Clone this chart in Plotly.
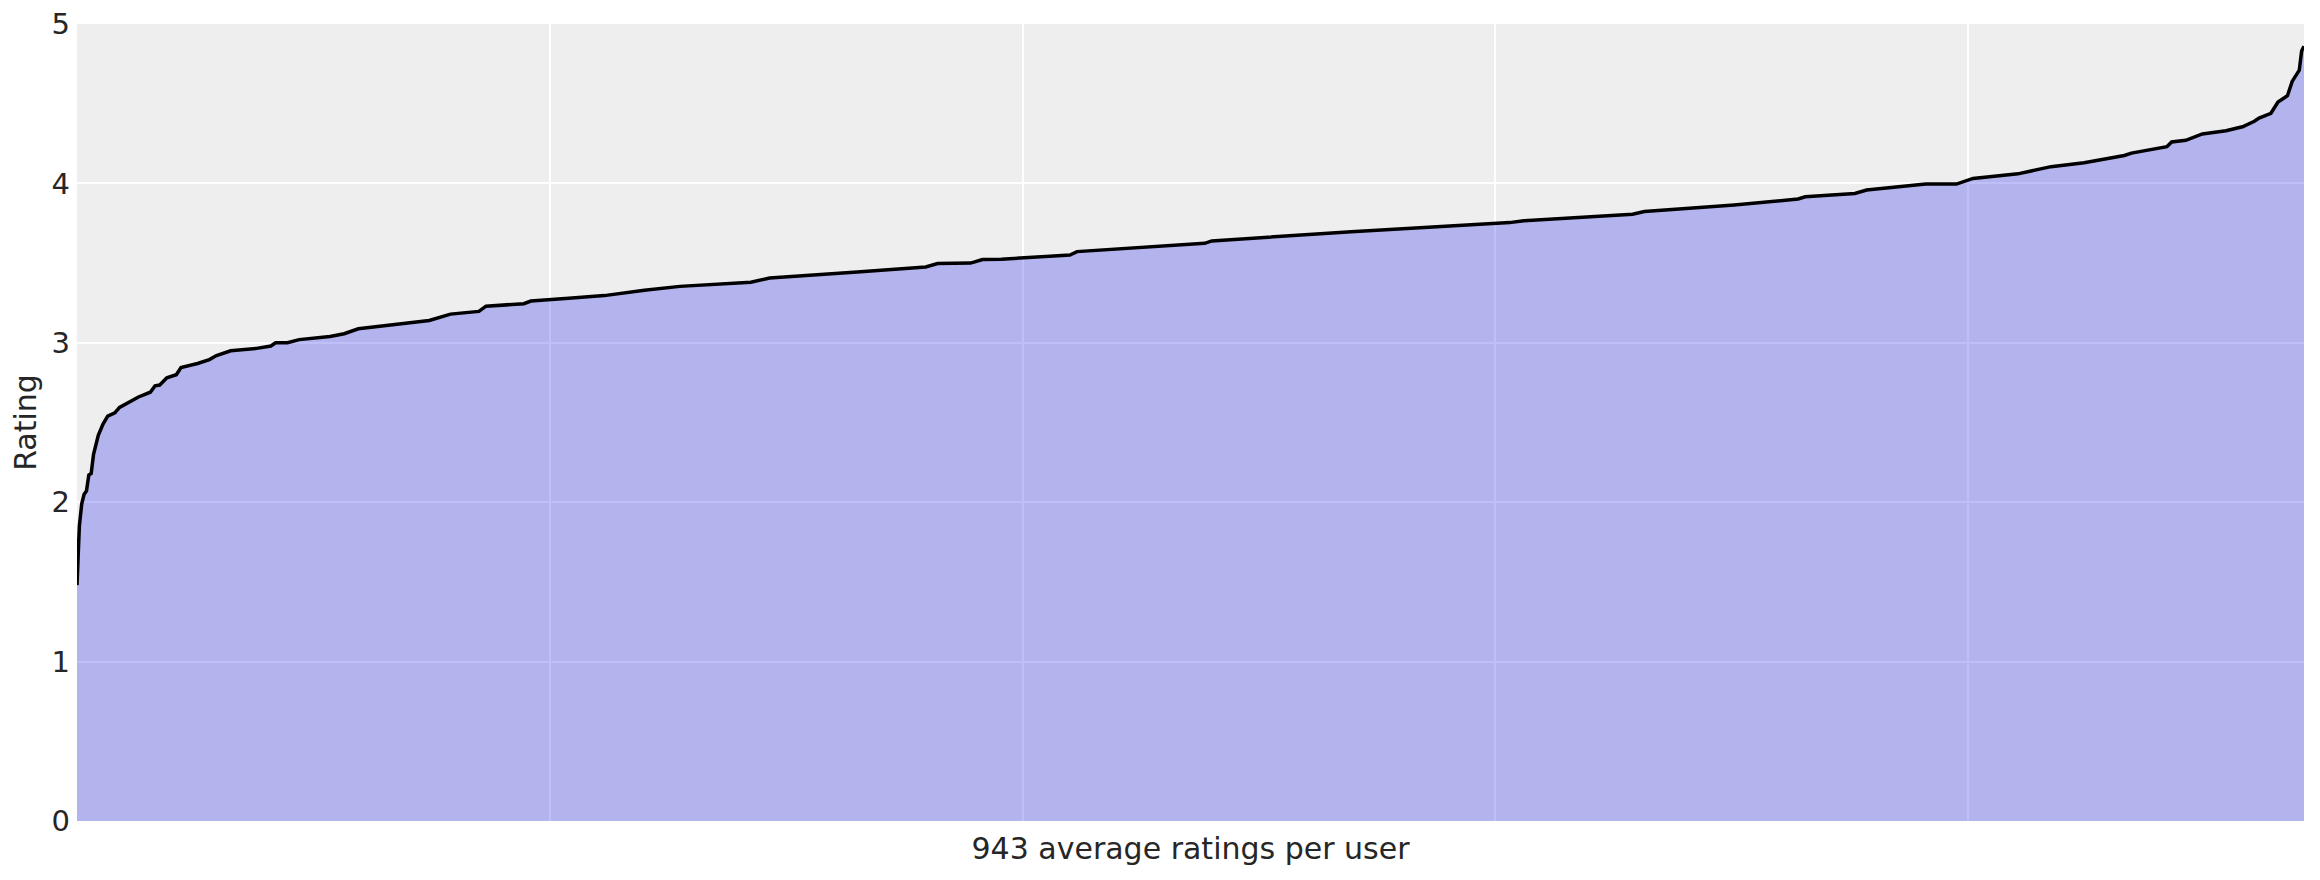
import plotly.graph_objects as go

# Rank of user (sorted ascending) and average rating
user_rank = [0, 1, 2, 3, 4, 5, 6, 7, 9, 11, 13, 16, 18, 22, 26, 31, 33, 35, 38, 42, 44, 51,
             56, 59, 65, 76, 82, 84, 89, 94, 107, 113, 119, 149, 158, 170, 173, 189, 192,
             208, 223, 240, 255, 285, 293, 330, 359, 364, 378, 383, 391, 420, 423, 477, 480,
             539, 574, 606, 612, 658, 663, 701, 728, 731, 752, 757, 782, 795, 802, 814, 821,
             835, 849, 866, 869, 884, 886, 892, 899, 909, 916, 921, 923, 928, 931, 935, 937,
             940, 941, 942]
avg_rating = [1.48, 1.85, 1.99, 2.05, 2.07, 2.17, 2.18, 2.30, 2.42, 2.49, 2.54, 2.56, 2.595,
              2.63, 2.66, 2.69, 2.73, 2.735, 2.78, 2.80, 2.845, 2.87, 2.895, 2.92, 2.95,
              2.965, 2.98, 3.00, 3.00, 3.02, 3.04, 3.057, 3.088, 3.14, 3.18, 3.197, 3.23,
              3.245, 3.262, 3.28, 3.296, 3.33, 3.354, 3.38, 3.407, 3.444, 3.476, 3.497, 3.50,
              3.522, 3.524, 3.551, 3.572, 3.624, 3.639, 3.697, 3.729, 3.754, 3.766, 3.806,
              3.823, 3.864, 3.902, 3.916, 3.937, 3.958, 3.996, 3.996, 4.031, 4.046, 4.06,
              4.105, 4.13, 4.175, 4.19, 4.23, 4.26, 4.27, 4.31, 4.33, 4.355, 4.39, 4.41, 4.44,
              4.51, 4.55, 4.64, 4.71, 4.83, 4.86]

x_grid_ticks = [200, 400, 600, 800]
y_ticks = [0, 1, 2, 3, 4, 5]

fig = go.Figure()
fig.add_trace(go.Scatter(
    x=user_rank, y=avg_rating, mode="lines",
    line=dict(color="black", width=3.5),
    fill="tozeroy", fillcolor="rgba(42,46,236,0.3)",
    hoverinfo="skip", showlegend=False,
))

fig.update_layout(
    width=2320, height=880,
    margin=dict(l=69, r=24, t=16, b=67),
    paper_bgcolor="white", plot_bgcolor="#eeeeee",
    font=dict(family="DejaVu Sans", size=29, color="#262626"),
)
fig.update_xaxes(
    range=[0, 942], tickvals=x_grid_ticks, showticklabels=False, automargin=False,
    showgrid=True, gridcolor="white", gridwidth=1.5, zeroline=False, showline=False,
    title=dict(text="943 average ratings per user", font=dict(size=30), standoff=16),
)
fig.update_yaxes(
    range=[0, 5], tickvals=y_ticks, ticks="", ticklabelstandoff=6, automargin=False,
    ticklabeloverflow="allow",
    showgrid=True, gridcolor="white", gridwidth=1.5, zeroline=False, showline=False,
    title=dict(text="Rating", font=dict(size=30), standoff=12),
    tickfont=dict(size=29),
)
fig.write_html("out.html")
